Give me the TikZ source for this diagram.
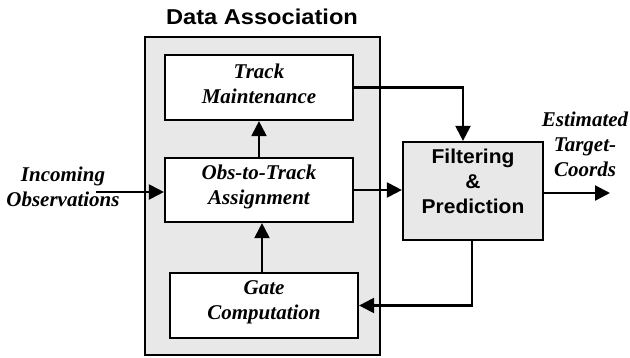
\documentclass[tikz,border=0pt]{standalone}
\usepackage{fontspec}
\usetikzlibrary{arrows.meta}
\newfontfamily\sansfam[FakeStretch=1.1]{Liberation Sans}
\newfontfamily\headfam[FakeStretch=1.05]{Liberation Sans}
\newfontfamily\seriffam{Liberation Serif}
\definecolor{panel}{HTML}{E8E8E8}
\tikzset{
  box/.style={draw, line width=2.2pt, fill=white, minimum width=188pt, minimum height=65pt, inner sep=0pt},
  lbl/.style={font=\seriffam\bfseries\itshape\fontsize{21}{25}\selectfont, align=center, inner sep=0pt},
  head/.style={font=\headfam\bfseries\fontsize{20}{25}\selectfont, align=center, inner sep=0pt},
  flow/.style={line width=2.2pt, -{Triangle[length=15pt,width=15pt]}}
}
\begin{document}
\begin{tikzpicture}[x=1pt,y=-1pt]
  \useasboundingbox (0,0) rectangle (630,357);
  % data association panel
  \node[draw, line width=2.2pt, fill=panel, minimum width=235pt, minimum height=318pt] (panel) at (262.5,196) {};
  \node[font=\sansfam\bfseries\fontsize{21.5}{25}\selectfont, inner sep=0pt] (title) at (262,17) {Data Association};
  % processing blocks
  \node[box] (track) at (259,87.5) {};
  \node[lbl] (tracktxt) at (259,84) {Track\\Maintenance};
  \node[box, minimum height=64pt] (obs) at (259,190) {};
  \node[lbl] (obstxt) at (259,187) {Obs-to-Track\\Assignment};
  \node[box] (gate) at (264,305.5) {};
  \node[lbl] (gatetxt) at (264,302) {Gate\\Computation};
  \node[draw, line width=2.2pt, fill=panel, minimum width=140pt, minimum height=98pt, inner sep=0pt] (filt) at (473,191) {};
  \node[head] (filttxt) at (473,181) {Filtering\\\&\\Prediction};
  % external labels
  \node[lbl] (incoming) at (63,187) {Incoming\\Observations};
  \node[lbl] (estimated) at (585,144) {Estimated\\Target-\\Coords};
  \coordinate (in) at (96,192);
  \coordinate (out) at (610,193);
  % connectors
  \draw[flow] (in) -- (in -| obs.west);
  \draw[flow] (obs.north) -- (track.south);
  \draw[flow] ([xshift=-2pt]gate.north) -- ([xshift=3pt]obs.south);
  \draw[flow] (obs.east) -- (obs.east -| filt.west);
  \draw[flow] (track.east) -| ([xshift=-10pt]filt.north);
  \draw[flow] (filt.east |- out) -- (out);
  \draw[flow] ([xshift=-1pt]filt.south) |- (gate.east);
\end{tikzpicture}
\end{document}
